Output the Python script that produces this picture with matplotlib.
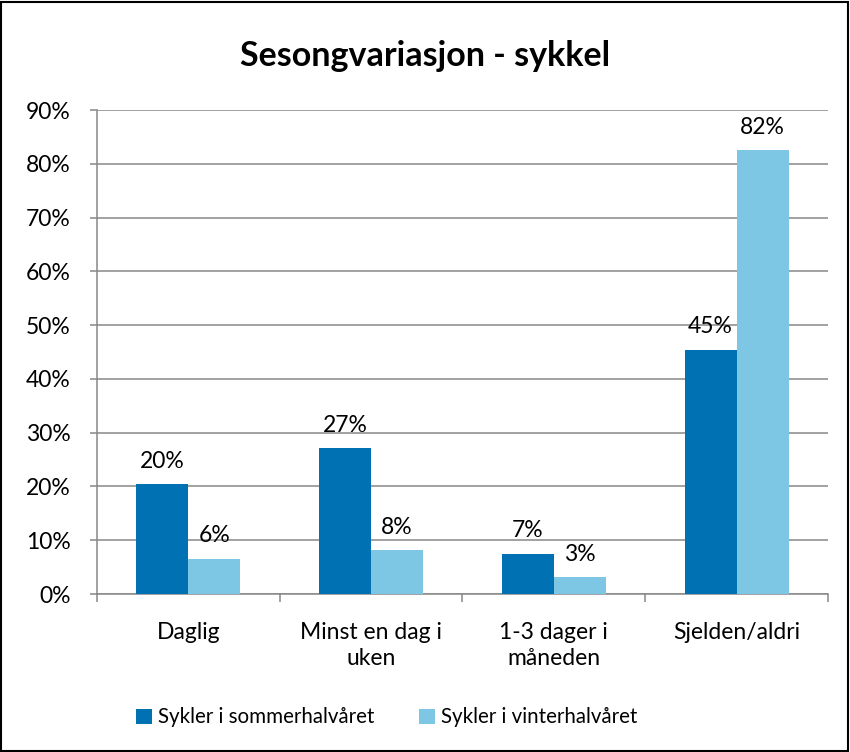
import matplotlib.pyplot as plt
import numpy as np
from matplotlib.patches import Rectangle

plt.rcParams['font.family'] = ['Lato', 'DejaVu Sans']

categories = ["Daglig", "Minst en dag i\nuken", "1-3 dager i\nmåneden", "Sjelden/aldri"]
sommer = [20.4, 27.1, 7.5, 45.4]
vinter = [6.6, 8.1, 3.1, 82.5]
sommer_labels = ["20%", "27%", "7%", "45%"]
vinter_labels = ["6%", "8%", "3%", "82%"]
yticks = [0, 10, 20, 30, 40, 50, 60, 70, 80, 90]

dark = "#0071b3"
light = "#7ec7e4"
grey = "#888888"

fig = plt.figure(figsize=(8.5, 7.52), dpi=100)
ax = fig.add_axes([0.1141, 0.2101, 0.86, 0.6436])

x = np.arange(len(categories))
w = 0.285
b1 = ax.bar(x - w/2, sommer, w, color=dark, label="Sykler i sommerhalvåret", zorder=3)
b2 = ax.bar(x + w/2, vinter, w, color=light, label="Sykler i vinterhalvåret", zorder=3)

for bars, labs in [(b1, sommer_labels), (b2, vinter_labels)]:
    for r, t in zip(bars, labs):
        ax.annotate(t, (r.get_x() + r.get_width()/2, r.get_height()),
                    xytext=(0, 9), textcoords="offset points",
                    ha="center", va="bottom", fontsize=16.5, color="black")

ax.set_ylim(0, 90)
ax.set_xlim(-0.5, len(categories) - 0.5)
ax.set_yticks(yticks)
ax.set_yticklabels([f"{v}%" for v in yticks], fontsize=16.5)
ax.yaxis.grid(True, color=grey, linewidth=1.1, zorder=0)
ax.set_axisbelow(True)

ax.set_xticks(x)
ax.set_xticklabels(categories, fontsize=16.5, linespacing=1.3)
ax.set_xticks(np.arange(-0.5, len(categories)), minor=True)
ax.tick_params(axis="x", which="major", length=0, pad=20)
ax.tick_params(axis="x", which="minor", length=6, color=grey, width=1.1)
ax.tick_params(axis="y", length=5, color=grey, width=1.1, pad=14)

for s in ["top", "right"]:
    ax.spines[s].set_visible(False)
for s in ["left", "bottom"]:
    ax.spines[s].set_color(grey)
    ax.spines[s].set_linewidth(1.1)

fig.text(0.5, 0.925, "Sesongvariasjon - sykkel", ha="center", va="center",
         fontsize=24.5, fontweight="bold")

fig.legend(handles=[b1, b2], loc="center", bbox_to_anchor=(0.455, 0.046), ncol=2,
           frameon=False, fontsize=14.8, handlelength=0.75, handleheight=0.75,
           handletextpad=0.3, columnspacing=2.2)

fig.patches.append(Rectangle((0.001, 0.001), 0.997, 0.997, transform=fig.transFigure,
                             fill=False, edgecolor="black", linewidth=1.5))

fig.savefig("out.png", dpi=100)
